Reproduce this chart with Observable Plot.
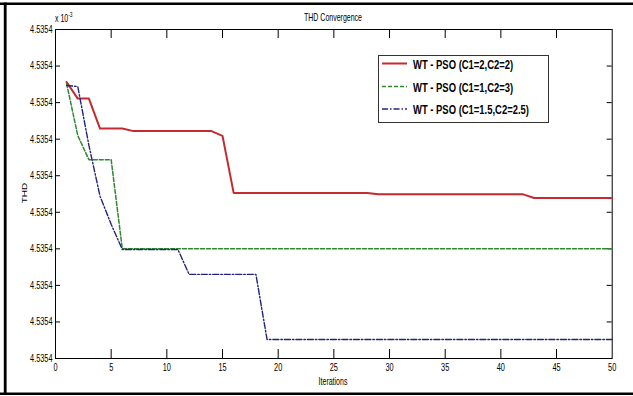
<!DOCTYPE html>
<html><head><meta charset="utf-8">
<script src="https://cdn.jsdelivr.net/npm/d3@7"></script>
<script src="https://cdn.jsdelivr.net/npm/@observablehq/plot@0.6"></script>
<style>
html,body{margin:0;padding:0;background:#fff;}
#chart{width:633px;height:396px;overflow:hidden;}
</style></head><body><div id="chart"></div>
<script>
const iterations = [1,2,3,4,5,6,7,8,9,10,11,12,13,14,15,16,17,18,19,20,21,22,23,24,25,26,27,28,29,30,31,32,33,34,35,36,37,38,39,40,41,42,43,44,45,46,47,48,49,50];
const seriesNames = ["WT - PSO (C1=2,C2=2)", "WT - PSO (C1=1,C2=3)", "WT - PSO (C1=1.5,C2=2.5)"];
const thdC22 = [4.53540756,4.53540711,4.53540711,4.53540629,4.53540629,4.53540629,4.53540622,4.53540622,4.53540622,4.53540622,
  4.53540622,4.53540622,4.53540622,4.53540622,4.53540609,4.53540453,4.53540453,4.53540453,4.53540453,4.53540453,
  4.53540453,4.53540453,4.53540453,4.53540453,4.53540453,4.53540453,4.53540453,4.53540453,4.53540449,4.53540449,
  4.53540449,4.53540449,4.53540449,4.53540449,4.53540449,4.53540449,4.53540449,4.53540449,4.53540449,4.53540449,
  4.53540449,4.53540449,4.53540439,4.53540439,4.53540439,4.53540439,4.53540439,4.53540439,4.53540439,4.53540439];
const thdC13 = [4.53540752,4.53540610,4.53540544,4.53540544,4.53540544,4.53540300,4.53540300,4.53540300,4.53540300,4.53540300,
  4.53540300,4.53540300,4.53540300,4.53540300,4.53540300,4.53540300,4.53540300,4.53540300,4.53540300,4.53540300,
  4.53540300,4.53540300,4.53540300,4.53540300,4.53540300,4.53540300,4.53540300,4.53540300,4.53540300,4.53540300,
  4.53540300,4.53540300,4.53540300,4.53540300,4.53540300,4.53540300,4.53540300,4.53540300,4.53540300,4.53540300,
  4.53540300,4.53540300,4.53540300,4.53540300,4.53540300,4.53540300,4.53540300,4.53540300,4.53540300,4.53540300];
const thdC1525 = [4.53540747,4.53540744,4.53540583,4.53540444,4.53540367,4.53540298,4.53540298,4.53540298,4.53540298,4.53540298,
  4.53540298,4.53540230,4.53540230,4.53540230,4.53540230,4.53540230,4.53540230,4.53540230,4.53540052,4.53540052,
  4.53540052,4.53540052,4.53540052,4.53540052,4.53540052,4.53540052,4.53540052,4.53540052,4.53540052,4.53540052,
  4.53540052,4.53540052,4.53540052,4.53540052,4.53540052,4.53540052,4.53540052,4.53540052,4.53540052,4.53540052,
  4.53540052,4.53540052,4.53540052,4.53540052,4.53540052,4.53540052,4.53540052,4.53540052,4.53540052,4.53540052];
const xTicks = [0,5,10,15,20,25,30,35,40,45,50];
const yTicks = [4.535400,4.535401,4.535402,4.535403,4.535404,4.535405,4.535406,4.535407,4.535408,4.535409];
const colors = ["#c42a30", "#2f8a2f", "#23237e"];
const dashes = [null, "4,2", "6,2,1.5,2"];
const widths = [2, 1.5, 1.4];

const allSeries = [thdC22, thdC13, thdC1525];
const rows = [];
allSeries.forEach((vals, s) => vals.forEach((v, i) => rows.push({series: s, it: iterations[i], thd: v})));

const W = 633, H = 396;
const mL = 55, mR = 21.3, mT = 29, mB = 38;
const ph = H - mT - mB, pw = W - mL - mR;
const FONT = "Liberation Sans, Arial, sans-serif";
const SQ = 0.7; // horizontal squeeze of the text, as in the reference

const marks = [
  Plot.frame({stroke: "#000", strokeWidth: 1}),
  Plot.axisX(xTicks, {anchor: "bottom", label: null, tickSize: 0, tickPadding: 5, fontSize: 10.5, tickFormat: d => String(d)}),
  Plot.axisY(yTicks, {anchor: "left", label: null, tickSize: 0, tickPadding: 3, fontSize: 10.5, tickFormat: d => d.toFixed(4)}),
  Plot.tickX(xTicks.slice(1, -1), {x: d => d, insetTop: ph - 9, stroke: "#000"}),
  Plot.tickX(xTicks.slice(1, -1), {x: d => d, insetBottom: ph - 9, stroke: "#000"}),
  Plot.tickY(yTicks.slice(1, -1), {y: d => d, insetRight: pw - 5, stroke: "#000"}),
  Plot.tickY(yTicks.slice(1, -1), {y: d => d, insetLeft: pw - 5, stroke: "#000"})
];
allSeries.forEach((vals, s) => {
  marks.push(Plot.line(rows.filter(r => r.series === s), {
    x: "it", y: "thd", stroke: colors[s], strokeWidth: widths[s],
    strokeDasharray: dashes[s], strokeLinejoin: "round"
  }));
});

const chart = Plot.plot({
  width: W, height: H,
  marginLeft: mL, marginRight: mR, marginTop: mT, marginBottom: mB,
  style: {fontFamily: FONT, background: "#fff", color: "#000"},
  x: {domain: [0, 50]},
  y: {domain: [4.535400, 4.535409]},
  marks
});
document.getElementById("chart").appendChild(chart);

// squeeze tick labels horizontally around their anchor
d3.select(chart).selectAll("text").each(function() {
  const el = d3.select(this);
  const x = parseFloat(el.attr("x")) || 0, y = parseFloat(el.attr("y")) || 0;
  const t = el.attr("transform") || "";
  el.attr("transform", `${t} translate(${x},${y}) scale(${SQ},1) translate(${-x},${-y})`);
});

const svg = d3.select(chart);
// outer figure border
svg.append("line").attr("x1", 0).attr("x2", W).attr("y1", 3.7).attr("y2", 3.7).attr("stroke", "#000").attr("stroke-width", 2.5);
svg.append("line").attr("x1", 0).attr("x2", W).attr("y1", 393.8).attr("y2", 393.8).attr("stroke", "#000").attr("stroke-width", 2.5);
svg.append("line").attr("x1", 5.2).attr("x2", 5.2).attr("y1", 2.5).attr("y2", 395).attr("stroke", "#000").attr("stroke-width", 2.8);

function label(x, y, str, opts = {}) {
  const g = svg.append("g").attr("transform", `translate(${x},${y}) ${opts.rotate ? "rotate(-90) scale(1," + SQ + ")" : "scale(" + SQ + ",1)"}`);
  const t = g.append("text").attr("x", 0).attr("y", 0)
    .attr("text-anchor", opts.anchor || "start")
    .attr("font-size", opts.size || 10).attr("font-family", FONT)
    .attr("font-weight", opts.weight || "normal").attr("fill", "#000");
  if (str !== null) t.text(str);
  return t;
}

label(333, 21, "THD Convergence", {anchor: "middle"});
const ex = label(55, 22, null, {size: 10});
ex.append("tspan").text("x 10");
ex.append("tspan").attr("dy", -5).attr("font-size", 7).text("-3");
label(333, 385, "Iterations", {anchor: "middle"});
label(27, 193, "THD", {anchor: "middle", rotate: true});

// legend
svg.append("rect").attr("x", 378.5).attr("y", 55.5).attr("width", 170).attr("height", 67)
  .attr("fill", "#fff").attr("stroke", "#333").attr("stroke-width", 1);
const ly = [63.5, 86.5, 109];
seriesNames.forEach((name, s) => {
  svg.append("line").attr("x1", 382).attr("x2", 407).attr("y1", ly[s]).attr("y2", ly[s])
    .attr("stroke", colors[s]).attr("stroke-width", widths[s]).attr("stroke-dasharray", dashes[s]);
  label(413, ly[s] + 5, name, {size: 13.5, weight: "bold"});
});
</script></body></html>
